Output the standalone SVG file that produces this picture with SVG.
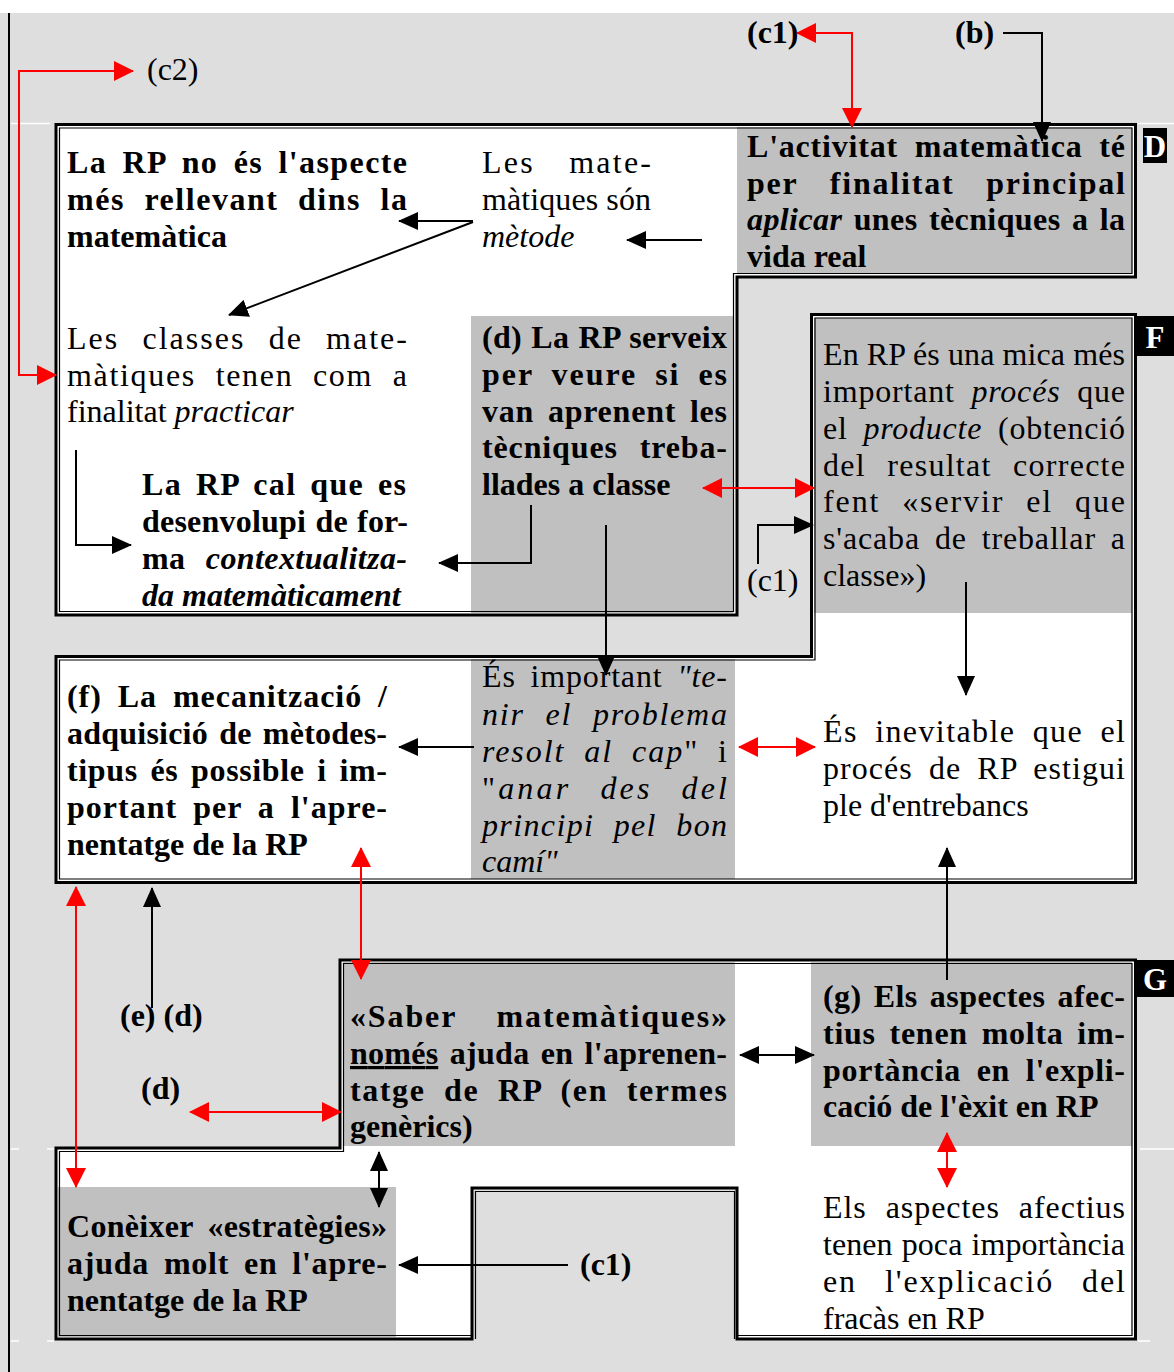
<svg xmlns="http://www.w3.org/2000/svg" width="1174" height="1372" viewBox="0 0 1174 1372">
  <style>
    .b { font-family: "Liberation Serif", "Times New Roman", serif; font-size: 32px; font-weight: bold; fill: #000; }
    .r { font-family: "Liberation Serif", "Times New Roman", serif; font-size: 32px; font-weight: normal; fill: #000; }
    .i { font-style: italic; }
    .u { text-decoration: underline; }
    .tag { font-family: "Liberation Serif", "Times New Roman", serif; font-size: 31px; font-weight: bold; fill: #fff; text-anchor: middle; }
    .box { fill: #c0c0c0; }
    .area { fill: #fff; stroke: none; }
    .thick { fill: none; stroke: #000; stroke-width: 3; }
    .thin { fill: none; stroke: #000; stroke-width: 1.2; }
    .tick { stroke: #fff; stroke-width: 1.5; }
    .ln { fill: none; stroke: #000; stroke-width: 2; }
    .rd { fill: none; stroke: #f00; stroke-width: 2; }
  </style>
  <defs>
    <marker id="ab" markerUnits="userSpaceOnUse" markerWidth="20" markerHeight="18" refX="19" refY="9" orient="auto-start-reverse">
      <path d="M0,0 L20,9 L0,18 z" fill="#000"/>
    </marker>
    <marker id="ar" markerUnits="userSpaceOnUse" markerWidth="20" markerHeight="20" refX="19" refY="10" orient="auto-start-reverse">
      <path d="M0,0 L20,10 L0,20 z" fill="#f00"/>
    </marker>
  </defs>

  <!-- page -->
  <rect x="0" y="0" width="1174" height="1372" fill="#fff"/>
  <rect x="0" y="13" width="1174" height="1359" fill="#dedede"/>
  <line x1="9" y1="13" x2="9" y2="1372" stroke="#000" stroke-width="2"/>
  <g id="grid-ticks">
    <line class="tick" x1="11" y1="123.5" x2="50" y2="123.5"/>
    <line class="tick" x1="1138" y1="123.5" x2="1174" y2="123.5"/>
    <line class="tick" x1="11" y1="1149" x2="19" y2="1149"/>
    <line class="tick" x1="47" y1="1149" x2="54" y2="1149"/>
    <line class="tick" x1="1140" y1="1149" x2="1174" y2="1149"/>
    <line class="tick" x1="11" y1="1341" x2="19" y2="1341"/>
    <line class="tick" x1="47" y1="1341" x2="54" y2="1341"/>
    <line class="tick" x1="1138" y1="1341" x2="1150" y2="1341"/>
  </g>

  <!-- framed areas: white fill -->
  <g id="areas">
    <polygon id="area-D" class="area" points="56,124.5 1135.5,124.5 1135.5,277 737,277 737,615 56,615"/>
    <polygon id="area-F" class="area" points="811.5,314.5 1135.5,314.5 1135.5,882.5 56,882.5 56,656.5 811.5,656.5"/>
    <polygon id="area-G" class="area" points="340,960 1135.5,960 1135.5,1339 737,1339 737,1188 472,1188 472,1339 56,1339 56,1148 340,1148"/>
  </g>

  <!-- nodes (justified lines: part of the slack goes to word gaps, the rest is spread over letters) -->
  <g id="n-rp-no-rellevant">
    <text class="b" x="67" y="173" textLength="340" lengthAdjust="spacing" style="word-spacing:6px">La RP no és l'aspecte</text>
    <text class="b" x="67" y="210" textLength="340" lengthAdjust="spacing" style="word-spacing:10px">més rellevant dins la</text>
    <text class="b" x="67" y="247">matemàtica</text>
  </g>

  <g id="n-metode">
    <text class="r" x="482" y="173" textLength="169" lengthAdjust="spacing" style="word-spacing:24px">Les mate-</text>
    <text class="r" x="482" y="210" textLength="169" lengthAdjust="spacing">màtiques són</text>
    <text class="r i" x="482" y="247">mètode</text>
  </g>

  <g id="n-aplicar">
    <rect class="box" x="737" y="127" width="395" height="146"/>
    <text class="b" x="747" y="157" textLength="378" lengthAdjust="spacing" style="word-spacing:8px">L'activitat matemàtica té</text>
    <text class="b" x="747" y="194" textLength="378" lengthAdjust="spacing" style="word-spacing:22px">per finalitat principal</text>
    <text class="b" x="747" y="230" textLength="378" lengthAdjust="spacing" style="word-spacing:3px"><tspan class="i">aplicar</tspan> unes tècniques a la</text>
    <text class="b" x="747" y="267">vida real</text>
  </g>

  <g id="n-practicar">
    <text class="r" x="67" y="349" textLength="340" lengthAdjust="spacing" style="word-spacing:13px">Les classes de mate-</text>
    <text class="r" x="67" y="386" textLength="340" lengthAdjust="spacing" style="word-spacing:10px">màtiques tenen com a</text>
    <text class="r" x="67" y="422">finalitat <tspan class="i">practicar</tspan></text>
  </g>

  <g id="n-contextualitzada">
    <text class="b" x="142" y="495" textLength="264" lengthAdjust="spacing" style="word-spacing:4.5px">La RP cal que es</text>
    <text class="b" x="142" y="532" textLength="266" lengthAdjust="spacing" style="word-spacing:1px">desenvolupi de for-</text>
    <text class="b" x="142" y="569" textLength="265" lengthAdjust="spacing" style="word-spacing:12px">ma <tspan class="i">contextualitza-</tspan></text>
    <text class="b i" x="142" y="606">da matemàticament</text>
  </g>

  <g id="n-d-serveix">
    <rect class="box" x="471" y="316" width="262" height="297"/>
    <text class="b" x="482" y="348" textLength="245" lengthAdjust="spacing" style="word-spacing:1px">(d) La RP serveix</text>
    <text class="b" x="482" y="385" textLength="245" lengthAdjust="spacing" style="word-spacing:8px">per veure si es</text>
    <text class="b" x="482" y="422" textLength="245" lengthAdjust="spacing" style="word-spacing:5px">van aprenent les</text>
    <text class="b" x="482" y="458" textLength="245" lengthAdjust="spacing" style="word-spacing:13px">tècniques treba-</text>
    <text class="b" x="482" y="495">llades a classe</text>
  </g>

  <g id="n-proces">
    <rect class="box" x="814" y="318" width="318" height="295"/>
    <text class="r" x="823" y="365" textLength="302" lengthAdjust="spacing">En RP és una mica més</text>
    <text class="r" x="823" y="402" textLength="302" lengthAdjust="spacing" style="word-spacing:8px">important <tspan class="i">procés</tspan> que</text>
    <text class="r" x="823" y="439" textLength="302" lengthAdjust="spacing" style="word-spacing:7px">el <tspan class="i">producte</tspan> (obtenció</text>
    <text class="r" x="823" y="476" textLength="302" lengthAdjust="spacing" style="word-spacing:12px">del resultat correcte</text>
    <text class="r" x="823" y="512" textLength="302" lengthAdjust="spacing" style="word-spacing:12px">fent «servir el que</text>
    <text class="r" x="823" y="549" textLength="302" lengthAdjust="spacing" style="word-spacing:6px">s'acaba de treballar a</text>
    <text class="r" x="823" y="586">classe»)</text>
  </g>

  <g id="n-mecanitzacio">
    <text class="b" x="67" y="707" textLength="320" lengthAdjust="spacing" style="word-spacing:7px">(f) La mecanització /</text>
    <text class="b" x="67" y="744" textLength="320" lengthAdjust="spacing" style="word-spacing:3px">adquisició de mètodes-</text>
    <text class="b" x="67" y="781" textLength="320" lengthAdjust="spacing" style="word-spacing:4px">tipus és possible i im-</text>
    <text class="b" x="67" y="818" textLength="320" lengthAdjust="spacing" style="word-spacing:7px">portant per a l'apre-</text>
    <text class="b" x="67" y="855">nentatge de la RP</text>
  </g>

  <g id="n-resolt-al-cap">
    <rect class="box" x="471" y="659" width="264" height="220"/>
    <text class="r" x="482" y="687" textLength="245" lengthAdjust="spacing" style="word-spacing:6px">És important <tspan class="i">"te-</tspan></text>
    <text class="r i" x="482" y="725" textLength="245" lengthAdjust="spacing" style="word-spacing:11px">nir el problema</text>
    <text class="r" x="482" y="762" textLength="245" lengthAdjust="spacing" style="word-spacing:9px"><tspan class="i">resolt al cap</tspan>" i</text>
    <text class="r" x="482" y="799" textLength="245" lengthAdjust="spacing" style="word-spacing:18px">"<tspan class="i">anar des del</tspan></text>
    <text class="r i" x="482" y="836" textLength="245" lengthAdjust="spacing" style="word-spacing:10px">principi pel bon</text>
    <text class="r i" x="482" y="872">camí"</text>
  </g>

  <g id="n-entrebancs">
    <text class="r" x="823" y="742" textLength="302" lengthAdjust="spacing" style="word-spacing:8px">És inevitable que el</text>
    <text class="r" x="823" y="779" textLength="302" lengthAdjust="spacing" style="word-spacing:7px">procés de RP estigui</text>
    <text class="r" x="823" y="816">ple d'entrebancs</text>
  </g>

  <g id="n-saber">
    <rect class="box" x="343" y="962" width="392" height="184"/>
    <text class="b" x="350" y="1027" textLength="377" lengthAdjust="spacing" style="word-spacing:30px">«Saber matemàtiques»</text>
    <text class="b" x="350" y="1064" textLength="377" lengthAdjust="spacing" style="word-spacing:3px"><tspan class="u">només</tspan> ajuda en l'aprenen-</text>
    <text class="b" x="350" y="1101" textLength="377" lengthAdjust="spacing" style="word-spacing:9px">tatge de RP (en termes</text>
    <text class="b" x="350" y="1137">genèrics)</text>
  </g>

  <g id="n-g-afectius">
    <rect class="box" x="811" y="962" width="321" height="184"/>
    <text class="b" x="823" y="1007" textLength="302" lengthAdjust="spacing" style="word-spacing:3.5px">(g) Els aspectes afec-</text>
    <text class="b" x="823" y="1044" textLength="302" lengthAdjust="spacing" style="word-spacing:5px">tius tenen molta im-</text>
    <text class="b" x="823" y="1081" textLength="302" lengthAdjust="spacing" style="word-spacing:7px">portància en l'expli-</text>
    <text class="b" x="823" y="1117">cació de l'èxit en RP</text>
  </g>

  <g id="n-fracas">
    <text class="r" x="823" y="1218" textLength="302" lengthAdjust="spacing" style="word-spacing:10px">Els aspectes afectius</text>
    <text class="r" x="823" y="1255" textLength="302" lengthAdjust="spacing" style="word-spacing:1px">tenen poca importància</text>
    <text class="r" x="823" y="1292" textLength="302" lengthAdjust="spacing" style="word-spacing:18px">en l'explicació del</text>
    <text class="r" x="823" y="1329">fracàs en RP</text>
  </g>

  <g id="n-estrategies">
    <rect class="box" x="58" y="1187" width="338" height="150"/>
    <text class="b" x="67" y="1237" textLength="320" lengthAdjust="spacing" style="word-spacing:6px">Conèixer «estratègies»</text>
    <text class="b" x="67" y="1274" textLength="320" lengthAdjust="spacing" style="word-spacing:6px">ajuda molt en l'apre-</text>
    <text class="b" x="67" y="1311">nentatge de la RP</text>
  </g>

  <!-- double frames: thick outer line, thin inner line -->
  <g id="frames">
    <polygon class="thin" points="59.5,128 1132,128 1132,273.5 733.5,273.5 733.5,611.5 59.5,611.5"/>
    <polygon class="thick" points="56,124.5 1135.5,124.5 1135.5,277 737,277 737,615 56,615"/>
    <polygon class="thin" points="815,318 1132,318 1132,879 59.5,879 59.5,660 815,660"/>
    <polygon class="thick" points="811.5,314.5 1135.5,314.5 1135.5,882.5 56,882.5 56,656.5 811.5,656.5"/>
    <path class="thin" d="M737,1335.5 H1132 V963.5 H343.5 V1151.5 H59.5 V1335.5 H472"/>
    <path class="thin" d="M734.5,1339 V1191.5 H475.5 V1339"/>
    <polygon class="thick" points="340,960 1135.5,960 1135.5,1339 737,1339 737,1188 472,1188 472,1339 56,1339 56,1148 340,1148"/>
  </g>

  <!-- section tags -->
  <g id="tag-D">
    <rect x="1143" y="128" width="24" height="35" fill="#000"/>
    <text class="tag" x="1155" y="157">D</text>
  </g>
  <g id="tag-F">
    <rect x="1137" y="316" width="37" height="40" fill="#000"/>
    <text class="tag" x="1155" y="348">F</text>
  </g>
  <g id="tag-G">
    <rect x="1137" y="960" width="37" height="37" fill="#000"/>
    <text class="tag" x="1155" y="990">G</text>
  </g>

  <!-- reference labels -->
  <g id="labels">
    <text class="b" x="747" y="43">(c1)</text>
    <text class="b" x="955" y="43">(b)</text>
    <text class="r" x="147" y="80">(c2)</text>
    <text class="r" x="747" y="591">(c1)</text>
    <text class="b" x="120" y="1026">(e) (d)</text>
    <text class="b" x="141" y="1099">(d)</text>
    <text class="b" x="580" y="1275">(c1)</text>
  </g>

  <!-- connectors -->
  <g id="connectors">
    <path class="ln" d="M1003,33 H1042 V141" marker-end="url(#ab)"/>
    <path class="rd" d="M797,33 H852 V127" marker-start="url(#ar)" marker-end="url(#ar)"/>
    <path class="rd" d="M56,375 H19 V71 H133" marker-start="url(#ar)" marker-end="url(#ar)"/>
    <path class="ln" d="M473,221 H399" marker-end="url(#ab)"/>
    <path class="ln" d="M473,222 L229,315" marker-end="url(#ab)"/>
    <path class="ln" d="M702,240 H627" marker-end="url(#ab)"/>
    <path class="ln" d="M531,505 V563 H439" marker-end="url(#ab)"/>
    <path class="ln" d="M76,450 V545 H131" marker-end="url(#ab)"/>
    <path class="ln" d="M606,525 V675" marker-end="url(#ab)"/>
    <path class="rd" d="M703,488 H814" marker-start="url(#ar)" marker-end="url(#ar)"/>
    <path class="ln" d="M758,564 V525 H813" marker-end="url(#ab)"/>
    <path class="ln" d="M966,582 V695" marker-end="url(#ab)"/>
    <path class="ln" d="M474,747 H399" marker-end="url(#ab)"/>
    <path class="rd" d="M739,747 H815" marker-start="url(#ar)" marker-end="url(#ar)"/>
    <path class="ln" d="M947,980 V848" marker-end="url(#ab)"/>
    <path class="rd" d="M361,848 V979" marker-start="url(#ar)" marker-end="url(#ar)"/>
    <path class="rd" d="M76,887 V1187" marker-start="url(#ar)" marker-end="url(#ar)"/>
    <path class="ln" d="M152,1008 V888" marker-end="url(#ab)"/>
    <path class="rd" d="M190,1112 H341" marker-start="url(#ar)" marker-end="url(#ar)"/>
    <path class="ln" d="M740,1055 H814" marker-start="url(#ab)" marker-end="url(#ab)"/>
    <path class="ln" d="M379,1152 V1207" marker-start="url(#ab)" marker-end="url(#ab)"/>
    <path class="rd" d="M947,1133 V1187" marker-start="url(#ar)" marker-end="url(#ar)"/>
    <path class="ln" d="M568,1265 H399" marker-end="url(#ab)"/>
  </g>
</svg>
